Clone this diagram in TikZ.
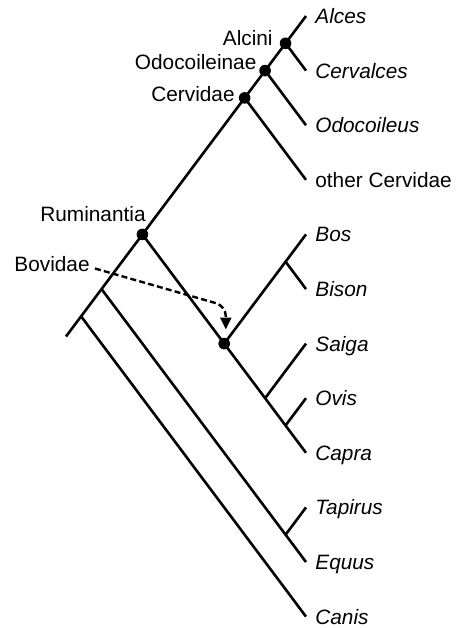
\documentclass[tikz,border=0pt]{standalone}
\usepackage{fontspec}
\setmainfont{Liberation Sans}
\usetikzlibrary{arrows.meta}
\newcommand\treefont{\fontsize{10.4}{12.5}\selectfont}

\begin{document}
\begin{tikzpicture}[x=0.5pt, y=-0.5pt,
    branch/.style={line width=1.3pt},
    taxon/.style={anchor=base west, inner sep=0pt, xshift=4.5pt, yshift=-3.7pt, font=\treefont\itshape},
    clade/.style={anchor=base east, inner sep=0pt, font=\treefont},
    cladedot/.style={circle, fill=black, inner sep=0pt, minimum size=5.8pt}]
  \useasboundingbox (0,0) rectangle (456,628);
  % tips
  \coordinate (alces) at (306,16);
  \coordinate (cervalces) at (306,70.6);
  \coordinate (odocoileus) at (306,125.2);
  \coordinate (othercerv) at (306,179.8);
  \coordinate (bos) at (306,234.4);
  \coordinate (bison) at (306,289);
  \coordinate (saiga) at (306,343.6);
  \coordinate (ovis) at (306,398.2);
  \coordinate (capra) at (306,452.8);
  \coordinate (tapirus) at (306,507.4);
  \coordinate (equus) at (306,562);
  \coordinate (canis) at (306,616.6);
  % internal nodes
  \coordinate (root) at (66,336.5);
  \coordinate (alcini) at (285.55,43.3);
  \coordinate (odocoileinae) at (265.1,70.6);
  \coordinate (cervidae) at (244.65,97.9);
  \coordinate (ruminantia) at (142.4,234.4);
  \coordinate (bovidae) at (224.2,343.6);
  \coordinate (bisonjn) at (285.55,261.7);
  \coordinate (saigajn) at (265.1,398.2);
  \coordinate (ovisjn) at (285.55,425.5);
  \coordinate (equusjn) at (101.5,289);
  \coordinate (tapirusjn) at (285.55,534.7);
  \coordinate (canisjn) at (81.05,316.3);
  % branches
  \draw[branch] (root) -- (alces);
  \draw[branch] (alcini) -- (cervalces);
  \draw[branch] (odocoileinae) -- (odocoileus);
  \draw[branch] (cervidae) -- (othercerv);
  \draw[branch] (ruminantia) -- (capra);
  \draw[branch] (bovidae) -- (bos);
  \draw[branch] (bisonjn) -- (bison);
  \draw[branch] (saigajn) -- (saiga);
  \draw[branch] (ovisjn) -- (ovis);
  \draw[branch] (equusjn) -- (equus);
  \draw[branch] (tapirusjn) -- (tapirus);
  \draw[branch] (canisjn) -- (canis);
  % named clades
  \node[cladedot] (alcinidot) at (alcini) {};
  \node[cladedot] (odocoileinaedot) at (odocoileinae) {};
  \node[cladedot] (cervidaedot) at (cervidae) {};
  \node[cladedot] (ruminantiadot) at (ruminantia) {};
  \node[cladedot] (bovidaedot) at (bovidae) {};
  \node[clade] (alcinilbl) at (273,45) {Alcini};
  \node[clade] (odocoileinaelbl) at (256.8,69.3) {Odocoileinae};
  \node[clade] (cervidaelbl) at (235,101.7) {Cervidae};
  \node[clade] (ruminantialbl) at (146,221) {Ruminantia};
  \node[clade] (bovidaelbl) at (90,271.7) {Bovidae};
  \coordinate (bovbend) at (225.8,306);
  \coordinate (bovarrow) at (225.8,329.5);
  \draw[line width=1.2pt, dash pattern=on 3pt off 1.6pt, rounded corners=5pt, -{Triangle[length=6pt, width=5.5pt]}]
    ([shift={(2.5pt,1.6pt)}]bovidaelbl.base east) -- (bovbend) -- (bovarrow);
  % taxa
  \node[taxon] (alceslbl) at (alces) {Alces};
  \node[taxon] (cervalceslbl) at (cervalces) {Cervalces};
  \node[taxon] (odocoileuslbl) at (odocoileus) {Odocoileus};
  \node[taxon, font=\treefont] (othercervlbl) at (othercerv) {other Cervidae};
  \node[taxon] (boslbl) at (bos) {Bos};
  \node[taxon] (bisonlbl) at (bison) {Bison};
  \node[taxon] (saigalbl) at (saiga) {Saiga};
  \node[taxon] (ovislbl) at (ovis) {Ovis};
  \node[taxon] (capralbl) at (capra) {Capra};
  \node[taxon] (tapiruslbl) at (tapirus) {Tapirus};
  \node[taxon] (equuslbl) at (equus) {Equus};
  \node[taxon] (canislbl) at (canis) {Canis};
\end{tikzpicture}
\end{document}
